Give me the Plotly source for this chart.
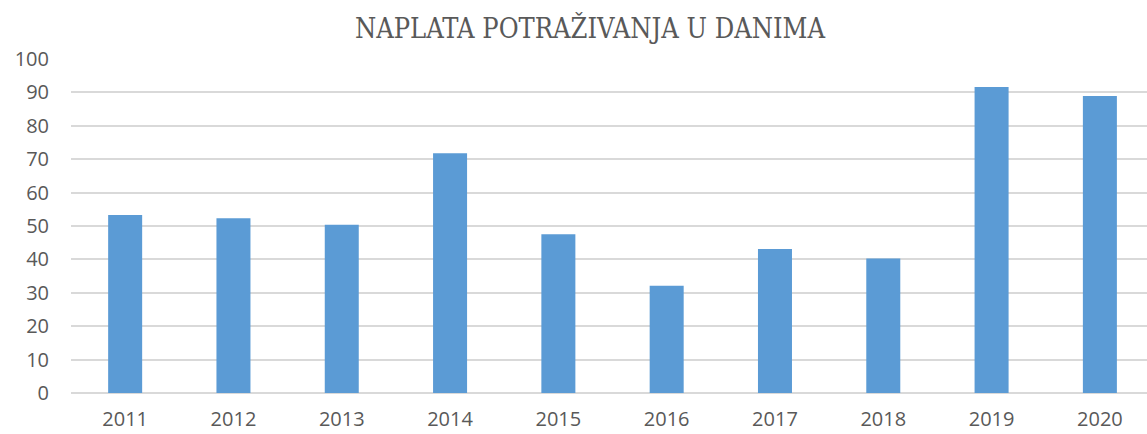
import plotly.graph_objects as go

years = ["2011", "2012", "2013", "2014", "2015", "2016", "2017", "2018", "2019", "2020"]
days = [53.3, 52.3, 50.4, 71.8, 47.5, 32.1, 43.1, 40.3, 91.6, 88.9]
y_ticks = [0, 10, 20, 30, 40, 50, 60, 70, 80, 90, 100]
title_text = "NAPLATA POTRAŽIVANJA U DANIMA"

W, H = 1147, 434

fig = go.Figure(go.Bar(x=years, y=days, marker=dict(color="#5B9BD5", line=dict(width=0))))

fig.update_layout(
    width=W, height=H,
    margin=dict(l=71, r=0, t=59, b=41, autoexpand=False),
    paper_bgcolor="white", plot_bgcolor="white",
    bargap=0.686,
    showlegend=False,
    title=dict(text=title_text, x=590 / W, xanchor="center", y=1 - 29 / H, yanchor="middle",
               xref="container", yref="container",
               font=dict(family="DejaVu Serif Condensed, Liberation Serif", size=27, color="#595959")),
    font=dict(family="Open Sans", size=20, color="#595959"),
)
fig.update_xaxes(type="category", range=[-0.5, 9.435], showgrid=False, zeroline=False,
                 showline=False, ticks="", ticklabelstandoff=12, automargin=False)
fig.update_yaxes(range=[0, 100], tickvals=y_ticks, showgrid=True, gridcolor="#D9D9D9", gridwidth=1.5,
                 zeroline=True, zerolinecolor="#D9D9D9", zerolinewidth=1.5, showline=False,
                 ticks="", ticklabelstandoff=21, automargin=False)

fig.write_html("out.html", config={"displayModeBar": False},
               post_script="document.body.style.margin='0';document.body.style.overflow='hidden';")
